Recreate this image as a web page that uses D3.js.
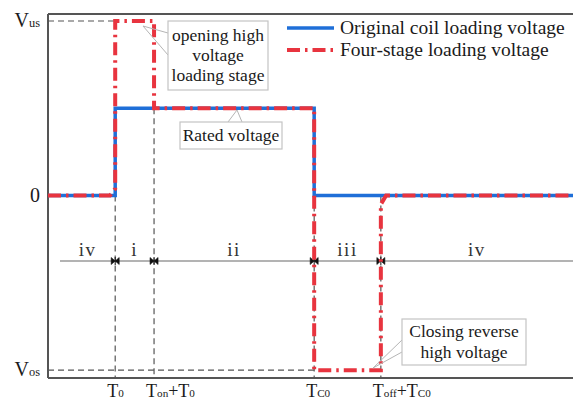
<!DOCTYPE html>
<html>
<head>
<meta charset="utf-8">
<script src="https://cdn.jsdelivr.net/npm/d3@7/dist/d3.min.js"></script>
<style>
  html, body { margin: 0; padding: 0; background: #fff; }
  svg { display: block; font-family: "Liberation Serif", "Times New Roman", serif; }
</style>
</head>
<body>
<svg id="chart" width="573" height="401"></svg>
<script>
// Time instants (arbitrary units) and voltage levels (per-unit of rated voltage)
const timeMarks = [
  { key: "T0", t: 1.28, base: "T", sub: "0", tail: "" },
  { key: "TonT0", t: 2.02, base: "T", sub: "on", tail: "+T", tailSub: "0" },
  { key: "TC0", t: 5.07, base: "T", sub: "C0", tail: "" },
  { key: "ToffTC0", t: 6.34, base: "T", sub: "off", tail: "+T", tailSub: "C0" }
];
const levelLabels = [
  { v: 2.0, base: "V", sub: "us" },
  { v: 0.0, base: "0", sub: "" },
  { v: -2.0, base: "V", sub: "os" }
];
// Original coil loading voltage: step to rated voltage between T0 and TC0
const originalT = [0, 1.28, 1.28, 5.07, 5.07, 10];
const originalV = [0, 0, 1, 1, 0, 0];
// Four-stage loading voltage
const fourStageT = [0, 1.18, 1.28, 1.28, 2.02, 2.02, 5.07, 5.07, 6.34, 6.34, 6.44, 10];
const fourStageV = [0, 0, 0.08, 2, 2, 1, 1, -2, -2, -0.1, 0, 0];
// Stage names between consecutive instants
const stageNames = ["iv", "i", "ii", "iii", "iv"];
const stageBounds = [0.23, 1.28, 2.02, 5.07, 6.34, 10];

const svg = d3.select("#chart");
const x = d3.scaleLinear().domain([0, 10]).range([48, 573]);
const y = d3.scaleLinear().domain([-2.09, 2.08]).range([378, 14]);

const frame = "#555";
const guide = "#555";
const blue = "#1f6fd8";
const red = "#e8343f";
const ink = "#1a1a1a";

// Frame: left, top and bottom edges
const g = svg.append("g");
g.append("line").attr("x1", x(0)).attr("x2", x(10)).attr("y1", y.range()[1]).attr("y2", y.range()[1])
  .attr("stroke", frame).attr("stroke-width", 2);
g.append("line").attr("x1", x(0)).attr("x2", x(10)).attr("y1", y.range()[0]).attr("y2", y.range()[0])
  .attr("stroke", frame).attr("stroke-width", 2);
g.append("line").attr("x1", x(0)).attr("x2", x(0)).attr("y1", y.range()[1]).attr("y2", y.range()[0])
  .attr("stroke", frame).attr("stroke-width", 2);

// Dashed guide lines
const dash = "6,4";
g.append("line").attr("x1", x(0)).attr("x2", x(1.28)).attr("y1", y(2)).attr("y2", y(2))
  .attr("stroke", guide).attr("stroke-width", 1.2).attr("stroke-dasharray", dash);
g.append("line").attr("x1", x(0)).attr("x2", x(5.07)).attr("y1", y(-2)).attr("y2", y(-2))
  .attr("stroke", guide).attr("stroke-width", 1.2).attr("stroke-dasharray", dash);
const guideTop = { T0: 0, TonT0: 1, TC0: 0, ToffTC0: 0 };
timeMarks.forEach(m => {
  g.append("line").attr("x1", x(m.t)).attr("x2", x(m.t))
    .attr("y1", y(guideTop[m.key])).attr("y2", y.range()[0])
    .attr("stroke", guide).attr("stroke-width", 1.2).attr("stroke-dasharray", dash);
});

// Stage row
const rowY = 261;
g.append("line").attr("x1", 60).attr("x2", x(10)).attr("y1", rowY).attr("y2", rowY)
  .attr("stroke", "#9a9a9a").attr("stroke-width", 1.5);
timeMarks.forEach(m => {
  const cx = x(m.t);
  g.append("path")
    .attr("d", `M${cx - 4},${rowY - 3.5}L${cx},${rowY}L${cx - 4},${rowY + 3.5}Z M${cx + 4},${rowY - 3.5}L${cx},${rowY}L${cx + 4},${rowY + 3.5}Z`)
    .attr("fill", "#111").attr("stroke", "#111").attr("stroke-width", 0.6);
  g.append("line").attr("x1", cx).attr("x2", cx).attr("y1", rowY - 4).attr("y2", rowY + 4)
    .attr("stroke", "#111").attr("stroke-width", 1);
});
stageNames.forEach((s, i) => {
  g.append("text").attr("x", (x(stageBounds[i]) + x(stageBounds[i + 1])) / 2)
    .attr("y", 256).attr("text-anchor", "middle").attr("font-size", 19).attr("fill", "#333")
    .attr("letter-spacing", 1.5).text(s);
});

// Voltage curves
const line = d3.line().x(d => x(d[0])).y(d => y(d[1]));
const originalPts = originalT.map((t, i) => [t, originalV[i]]);
const fourStagePts = fourStageT.map((t, i) => [t, fourStageV[i]]);
g.append("path").attr("d", line(originalPts)).attr("fill", "none")
  .attr("stroke", blue).attr("stroke-width", 3.5).attr("stroke-linejoin", "miter");
g.append("path").attr("d", line(fourStagePts)).attr("fill", "none")
  .attr("stroke", red).attr("stroke-width", 4).attr("stroke-dasharray", "13,5,2.5,5");

// Axis labels with subscripts
function subLabel(sel, base, sub, tail, tailSub, size) {
  const t = sel.append("text").attr("font-size", size).attr("fill", ink);
  t.append("tspan").text(base);
  if (sub) t.append("tspan").attr("font-size", size * 0.62).text(sub);
  if (tail) {
    t.append("tspan").text(tail);
    if (tailSub) t.append("tspan").attr("font-size", size * 0.62).text(tailSub);
  }
  return t;
}
levelLabels.forEach(l => {
  subLabel(g, l.base, l.sub, "", "", 20)
    .attr("x", 40).attr("y", y(l.v) + 6).attr("text-anchor", "end");
});
// Time labels start just left of their instant so the leading "T" sits on the guide
timeMarks.forEach(m => {
  subLabel(g, m.base, m.sub, m.tail, m.tailSub, 18)
    .attr("x", x(m.t) - 8).attr("y", 397).attr("text-anchor", "start");
});

// Callout boxes
function callout(box, lines, tip, base1, base2, lineH) {
  const c = g.append("g");
  c.append("path").attr("d", `M${base1[0]},${base1[1]}L${tip[0]},${tip[1]}L${base2[0]},${base2[1]}`)
    .attr("fill", "none").attr("stroke", "#b5b5b5").attr("stroke-width", 1);
  c.append("rect").attr("x", box[0]).attr("y", box[1]).attr("width", box[2]).attr("height", box[3])
    .attr("fill", "#fff").attr("stroke", "#c4c4c4").attr("stroke-width", 1.2);
  const cx = box[0] + box[2] / 2;
  const top = box[1] + box[3] / 2 - (lines.length - 1) * lineH / 2;
  lines.forEach((s, i) => {
    c.append("text").attr("x", cx).attr("y", top + i * lineH + 5.5).attr("text-anchor", "middle")
      .attr("font-size", 17.5).attr("fill", ink).text(s);
  });
}
callout([168, 21, 100, 69], ["opening high", "voltage", "loading stage"], [143, 26], [168, 33], [168, 55], 20);
callout([180, 122, 102, 27], ["Rated voltage"], [237, 110], [228, 122], [242, 122], 20);
callout([402, 319, 124, 46], ["Closing reverse", "high voltage"], [373, 368], [402, 340], [402, 352], 21);

// Legend
const legend = g.append("g");
legend.append("line").attr("x1", 287).attr("x2", 334).attr("y1", 28).attr("y2", 28)
  .attr("stroke", blue).attr("stroke-width", 3.5);
legend.append("line").attr("x1", 287).attr("x2", 334).attr("y1", 50).attr("y2", 50)
  .attr("stroke", red).attr("stroke-width", 4).attr("stroke-dasharray", "13,5,2.5,5");
legend.append("text").attr("x", 340).attr("y", 34).attr("font-size", 19.5).attr("fill", ink)
  .text("Original coil loading voltage");
legend.append("text").attr("x", 340).attr("y", 56).attr("font-size", 19.5).attr("fill", ink)
  .text("Four-stage loading voltage");
</script>
</body>
</html>
